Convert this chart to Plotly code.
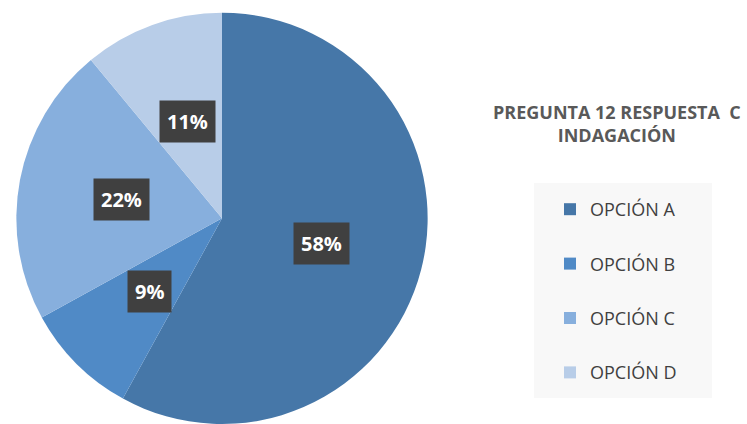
import math
import plotly.graph_objects as go

labels = ["OPCIÓN A", "OPCIÓN B", "OPCIÓN C", "OPCIÓN D"]
values = [58, 9, 22, 11]
colors = ["#4677a8", "#508ac6", "#87afdd", "#b8cde8"]
title_text = "PREGUNTA 12 RESPUESTA  C<br>INDAGACIÓN"

W, H = 747, 424
dom_x = [0.0, 444 / W]
dom_y = [0.0, 0.97]

fig = go.Figure()
fig.add_trace(go.Pie(
    labels=labels, values=values, sort=False, direction="clockwise", rotation=0,
    marker=dict(colors=colors, line=dict(width=0)),
    textinfo="none", hoverinfo="label+percent", showlegend=False,
    domain=dict(x=dom_x, y=dom_y),
))

for lab, col in zip(labels, colors):
    fig.add_trace(go.Scatter(
        x=[None], y=[None], mode="markers", name=lab, legendgroup=lab,
        marker=dict(symbol="square", size=12, color=col),
    ))

# label annotations placed at half radius along each slice's mid-angle
cx = (dom_x[0] + dom_x[1]) / 2 * W
cy = (dom_y[0] + dom_y[1]) / 2 * H
r = min((dom_x[1] - dom_x[0]) * W, (dom_y[1] - dom_y[0]) * H) / 2
total = sum(values)
cum = 0
annotations = []
for v in values:
    mid = (cum + v / 2) / total
    cum += v
    th = 2 * math.pi * mid
    px = cx + 0.5 * r * math.sin(th)
    py = cy + 0.5 * r * math.cos(th)
    annotations.append(dict(
        x=px / W, y=py / H, xref="paper", yref="paper", showarrow=False,
        xanchor="center", yanchor="middle",
        text=f"<b>{round(100 * v / total)}%</b>",
        font=dict(family="Open Sans", size=20, color="white"),
        bgcolor="#404040", borderpad=7,
    ))

annotations.append(dict(
    x=617 / W, y=1 - 123 / H, xref="paper", yref="paper", showarrow=False,
    xanchor="center", yanchor="middle",
    text=f"<b>{title_text}</b>", align="center",
    font=dict(family="Open Sans", size=18, color="#595959"),
))

fig.update_layout(
    width=W, height=H, margin=dict(l=0, r=0, t=0, b=0),
    paper_bgcolor="white", plot_bgcolor="white",
    xaxis=dict(visible=False), yaxis=dict(visible=False),
    annotations=annotations,
    shapes=[dict(type="rect", xref="paper", yref="paper",
                 x0=534 / W, x1=712 / W, y0=1 - 398 / H, y1=1 - 183 / H,
                 fillcolor="#f8f8f8", line=dict(width=0), layer="below")],
    legend=dict(x=550 / W, y=1 - 191 / H, xanchor="left", yanchor="top",
                bgcolor="rgba(0,0,0,0)", tracegroupgap=28,
                font=dict(family="Open Sans", size=18, color="#404040"),
                itemclick=False),
)

fig.write_html("out.html")
